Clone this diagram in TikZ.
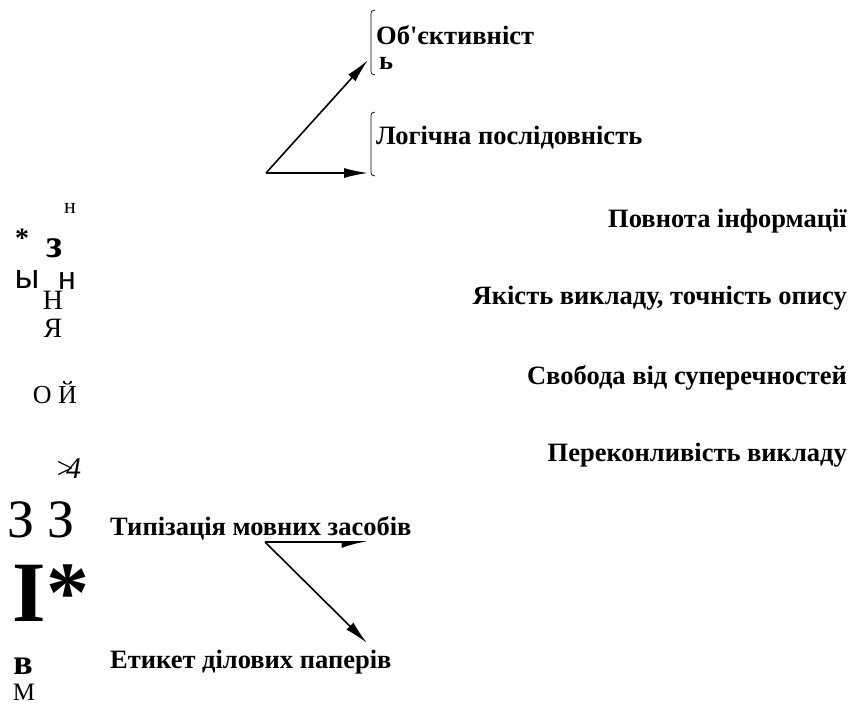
\documentclass[tikz,border=0pt]{standalone}
\usepackage{fontspec}
\setmainfont{Liberation Serif}
\newfontfamily\lblfont{Liberation Serif}
\newfontfamily\sansglyph{Liberation Sans}
\usetikzlibrary{arrows.meta,positioning}
\newcommand{\glyphsize}[1]{\fontsize{#1}{#1}\selectfont}

\begin{document}
\begin{tikzpicture}[
    x=1pt, y=-1pt,
    lbl/.style={font=\lblfont\bfseries\glyphsize{26.5}, inner sep=0pt},
    glyph/.style={inner sep=0pt},
    arrow/.style={-{Latex[length=24pt,width=10pt]}, line width=1.6pt},
    halfarrow/.style={-{Latex[harpoon,swap,length=22pt,width=12pt]}, line width=1.6pt},
    bracket/.style={line width=0.7pt}
]
    \useasboundingbox (0,0) rectangle (850,706);

    % Upper fork with bracketed labels
    \coordinate (upfork) at (266,173);
    \coordinate (objtip) at (368,60);
    \coordinate (logtip) at (368,173);
    \node[lbl, anchor=west] (obj) at (376,35) {Об'єктивніст};
    \node[lbl, anchor=west] (objend) at (379,63) {ь};
    \node[lbl, anchor=west] (logic) at (376,138) {Логічна послідовність};
    \draw[bracket] (375,10) .. controls (371,11) .. (371,17) -- (371,68) .. controls (371,74) .. (375,75);
    \draw[bracket] (375,112) .. controls (371,113) .. (371,119) -- (371,169) .. controls (371,175) .. (375,176);
    \draw[arrow] (upfork) -- (objtip);
    \draw[arrow] (upfork) -- (logtip);

    % Right column
    \node[lbl, anchor=east] (full) at (847,221) {Повнота інформації};
    \node[lbl, anchor=east] (quality) at (847,298) {Якість викладу, точність опису};
    \node[lbl, anchor=east] (freedom) at (847,378) {Свобода від суперечностей};
    \node[lbl, anchor=east] (persuade) at (847,455) {Переконливість викладу};

    % Scattered letters on the left
    \node[glyph, font=\glyphsize{22}] (smalln) at (70,208) {н};
    \node[glyph, font=\bfseries\glyphsize{28}] (starone) at (22,238) {*};
    \node[glyph, font=\bfseries\glyphsize{40}] (ze) at (55,248) {з};
    \node[glyph, font=\sansglyph\glyphsize{34}] (yery) at (27,280) {ы};
    \node[glyph, font=\sansglyph\glyphsize{32}] (sansn) at (67,281) {н};
    \node[glyph, font=\glyphsize{28}] (bigen) at (53,300) {Н};
    \node[glyph, font=\glyphsize{28}] (ya) at (53,328) {Я};
    \node[glyph, font=\glyphsize{26}] (oshort) at (55,393) {О Й};
    \node[glyph, font=\itshape\glyphsize{30}] (four) at (68,469) {>\kern-0.3em4};
    \node[glyph, font=\glyphsize{54}] (zeze) at (41,520) {З З};
    \node[glyph, font=\bfseries\glyphsize{86}] (bigi) at (51,593) {I*};
    \node[glyph, font=\bfseries\glyphsize{36}] (ve) at (23,666) {в};
    \node[glyph, font=\glyphsize{25}] (em) at (24,692) {М};

    % Lower fork
    \node[lbl, anchor=west] (typing) at (110,528) {Типізація мовних засобів};
    \node[lbl, anchor=west] (etiquette) at (110,662) {Етикет ділових паперів};
    \coordinate (lowfork) at (265,542);
    \coordinate (typtip) at (368,542);
    \coordinate (etitip) at (367,643);
    \draw[halfarrow] (lowfork) -- (typtip);
    \draw[arrow] (lowfork) -- (etitip);
\end{tikzpicture}
\end{document}
